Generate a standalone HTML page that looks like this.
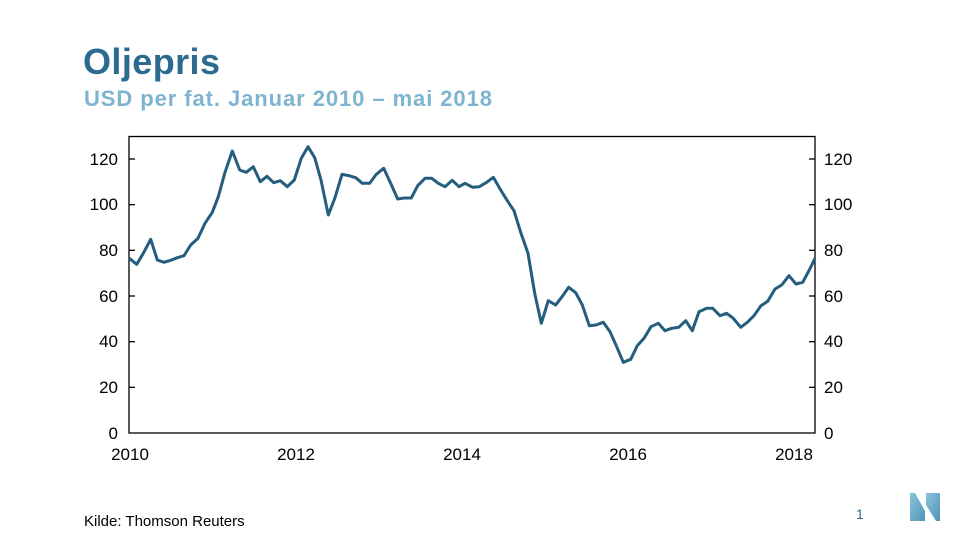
<!DOCTYPE html>
<html><head><meta charset="utf-8"><style>
body{margin:0;width:960px;height:540px;background:#fff;overflow:hidden;font-family:"Liberation Sans",Arial,sans-serif}
</style></head><body>
<svg width="960" height="540" viewBox="0 0 960 540" xmlns="http://www.w3.org/2000/svg" font-family="Liberation Sans, Arial, sans-serif">
<defs><linearGradient id="g" x1="0" y1="0" x2="1" y2="1"><stop offset="0" stop-color="#8cc3dc"/><stop offset="1" stop-color="#4f95b8"/></linearGradient></defs>
<text x="83" y="74" font-size="36" font-weight="bold" fill="#2a6b8f" textLength="137">Oljepris</text>
<text x="84" y="106" font-size="22" font-weight="bold" fill="#7fb4d1" textLength="408">USD per fat. Januar 2010 – mai 2018</text>
<rect x="129" y="136.5" width="686" height="296.5" fill="none" stroke="#000" stroke-width="1.3"/>
<g stroke="#000" stroke-width="1.3">
<line x1="129" y1="159" x2="135" y2="159"/><line x1="129" y1="204.7" x2="135" y2="204.7"/><line x1="129" y1="250.3" x2="135" y2="250.3"/><line x1="129" y1="296" x2="135" y2="296"/><line x1="129" y1="341.7" x2="135" y2="341.7"/><line x1="129" y1="387.3" x2="135" y2="387.3"/>
<line x1="809" y1="159" x2="815" y2="159"/><line x1="809" y1="204.7" x2="815" y2="204.7"/><line x1="809" y1="250.3" x2="815" y2="250.3"/><line x1="809" y1="296" x2="815" y2="296"/><line x1="809" y1="341.7" x2="815" y2="341.7"/><line x1="809" y1="387.3" x2="815" y2="387.3"/>
</g>
<g font-size="17" fill="#000" text-anchor="end">
<text x="118" y="165">120</text><text x="118" y="210">100</text><text x="118" y="256">80</text><text x="118" y="302">60</text><text x="118" y="347">40</text><text x="118" y="393">20</text><text x="118" y="439">0</text>
</g>
<g font-size="17" fill="#000">
<text x="824" y="165">120</text><text x="824" y="210">100</text><text x="824" y="256">80</text><text x="824" y="302">60</text><text x="824" y="347">40</text><text x="824" y="393">20</text><text x="824" y="439">0</text>
</g>
<g font-size="17" fill="#000" text-anchor="middle">
<text x="130" y="460">2010</text><text x="296" y="460">2012</text><text x="462" y="460">2014</text><text x="628" y="460">2016</text><text x="794" y="460">2018</text>
</g>
<polyline fill="none" stroke="#245d7e" stroke-width="3" stroke-linejoin="round" points="129.3,258.3 136.7,264.3 143.3,253.3 150.7,239.3 157.3,260 164,262.3 170.7,260.3 177.3,257.7 184,255.7 190.7,245 198,238.3 205,223.3 212.3,212.3 218.3,196.7 225,172.3 232.3,151 239.7,170 246.3,172.3 253.3,166.7 260.3,181.7 267,176.3 273.7,182.7 280.3,180.7 287.3,186.7 294.3,180 301.3,158.3 308,146.7 314.7,157.7 321,180 328.3,215 335,197.7 342,174.3 349,175.7 355.7,177.7 362.3,183.3 369.7,183.3 376.3,174.3 383.7,168.3 391,184 397.7,199 404.3,198 411.3,198 417.7,185.7 425,178.3 431.7,178.3 438.3,183.3 445,186.7 452.3,180.3 459,186.7 465,183.3 472.7,187.3 479.3,186.7 486.7,182.3 493.3,177.3 500.7,190 507.3,200.7 514,210.7 521,233.3 528,253.3 534.7,293.3 541.3,323.3 548.3,300.7 555.7,305 562,296.7 568.7,287.3 575.7,292.7 582.3,305 589.3,325.7 596,325 603.3,322.3 610,331.7 616.7,346.7 623.3,362.3 630.7,359.3 637.3,345.7 644,338.3 651,326.7 658.3,323.3 665,330.7 671.7,328.3 678.7,327.3 685.7,320.7 692.3,330.7 699,311.7 706.7,308.3 712.7,308.3 720,315.7 726.7,313.3 733.3,318.3 740.7,327.3 747.3,322.3 754,315.7 761,305.7 767.7,301.3 775,289 781.7,285 789,275.7 796,284 802.7,282.3 809.3,270 815,258.3"/>
<text x="84" y="526" font-size="15" fill="#000">Kilde: Thomson  Reuters</text>
<text x="856" y="519" font-size="14" fill="#2a6b8f">1</text>
<polygon points="910,493 915,493 925,511 925,521 910,521" fill="url(#g)"/>
<polygon points="926,493 940,493 940,521 936,521 926,505" fill="url(#g)"/>
</svg>
</body></html>
